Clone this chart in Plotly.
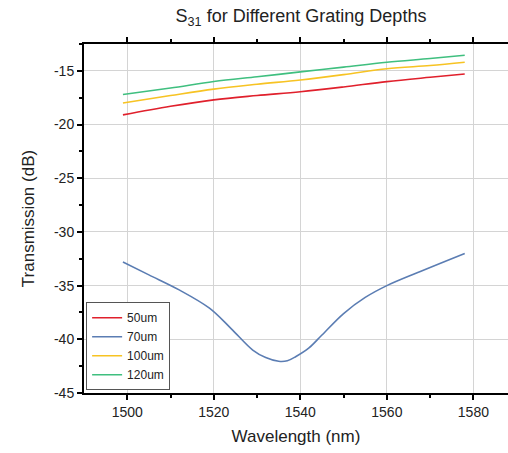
import plotly.graph_objects as go

wl_flat = [1499, 1510, 1520, 1530, 1540, 1550, 1560, 1570, 1578]
s_50 = [-19.1, -18.3, -17.7, -17.3, -16.95, -16.5, -16.0, -15.6, -15.3]
s_100 = [-18.0, -17.3, -16.7, -16.25, -15.85, -15.35, -14.8, -14.5, -14.2]
s_120 = [-17.2, -16.6, -16.0, -15.55, -15.1, -14.65, -14.2, -13.85, -13.55]

wl_70 = [1499, 1505, 1512, 1519, 1524, 1529, 1532, 1535, 1537, 1539, 1542, 1545,
         1550, 1555, 1560, 1567, 1578]
s_70 = [-32.8, -34.0, -35.4, -37.1, -39.0, -41.0, -41.7, -42.05, -42.0, -41.6,
        -40.8, -39.6, -37.6, -36.1, -35.0, -33.8, -32.0]

x_ticks = [1500, 1520, 1540, 1560, 1580]
y_ticks = [-45, -40, -35, -30, -25, -20, -15]

series = [
    ("50um", wl_flat, s_50, "#e0202c"),
    ("70um", wl_70, s_70, "#5b7db3"),
    ("100um", wl_flat, s_100, "#f7c323"),
    ("120um", wl_flat, s_120, "#3fbf7f"),
]

fig = go.Figure()
for name, x, y, c in series:
    fig.add_trace(go.Scatter(x=x, y=y, name=name, mode="lines",
                             line=dict(color=c, width=1.6, shape="spline")))

font = "Liberation Sans, Arial, sans-serif"
fig.update_layout(
    width=508, height=453,
    margin=dict(l=84, r=0, t=44, b=60),
    paper_bgcolor="white", plot_bgcolor="white",
    font=dict(family=font, size=14, color="#222"),
    title=dict(text="S<sub>31</sub> for Different Grating Depths",
               x=301/508, xanchor="center", y=1-16/453, yanchor="middle",
               font=dict(size=18, color="#222")),
    showlegend=True,
    legend=dict(x=0.005, y=0.008, xanchor="left", yanchor="bottom",
                bordercolor="#555", borderwidth=1, bgcolor="white",
                font=dict(size=12), tracegroupgap=0, itemwidth=30),
    xaxis=dict(range=[1490, 1588], tickvals=x_ticks,
               ticktext=[str(v) for v in x_ticks],
               showline=True, linecolor="black", linewidth=2, mirror="ticks",
               ticks="outside", ticklen=5, tickwidth=2, tickcolor="black",
               tickfont=dict(size=14),
               showgrid=True, gridcolor="#d4d4d4", gridwidth=1, zeroline=False,
               minor=dict(tickvals=[1510, 1530, 1550, 1570], ticks="outside",
                          ticklen=3, tickwidth=2, tickcolor="black", showgrid=False),
               title=dict(text="Wavelength (nm)", font=dict(size=17), standoff=11)),
    yaxis=dict(range=[-45, -12.5], tickvals=y_ticks,
               ticktext=[str(v) for v in y_ticks],
               showline=True, linecolor="black", linewidth=2,
               ticks="outside", ticklen=5, tickwidth=2, tickcolor="black",
               tickfont=dict(size=14),
               showgrid=True, gridcolor="#d4d4d4", gridwidth=1, zeroline=False,
               minor=dict(tickvals=[-42.5, -37.5, -32.5, -27.5, -22.5, -17.5, -12.5],
                          ticks="outside", ticklen=3, tickwidth=2, tickcolor="black",
                          showgrid=False),
               title=dict(text="Transmission (dB)", font=dict(size=17), standoff=15)),
)

fig.write_html("out.html")
